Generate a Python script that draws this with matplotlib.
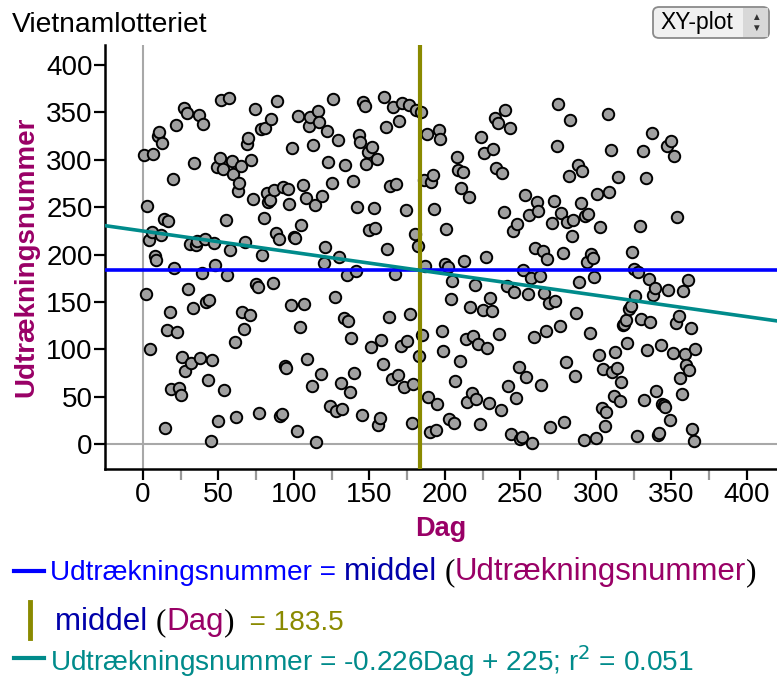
import numpy as np
import matplotlib
matplotlib.use("Agg")
import matplotlib.pyplot as plt
from matplotlib.patches import FancyBboxPatch, Rectangle

# 1969 lottery: draw number per day of year (Jan..Dec)
jan = [305,159,251,215,101,224,306,199,194,325,329,221,318,238,17,121,235,140,58,280,186,337,118,59,52,92,355,77,349,164,211]
feb = [86,144,297,210,214,347,91,181,338,216,150,68,152,4,89,212,189,292,25,302,363,290,57,236,179,365,205,299,285]
mar = [108,29,267,275,293,139,122,213,317,323,136,300,259,354,169,166,33,332,200,239,334,265,256,258,343,170,268,223,362,217,30]
apr = [32,271,83,81,269,253,147,312,219,218,14,346,124,231,273,148,260,90,336,345,62,316,252,2,351,340,74,262,191,208]
may = [330,298,40,276,364,155,35,321,197,65,37,133,295,178,130,55,112,278,75,183,250,326,319,31,361,357,296,308,226,103,313]
jun = [249,228,301,20,28,110,85,366,335,206,134,272,69,356,180,274,73,341,104,360,60,247,109,358,137,22,64,222,353,209]
jul = [93,350,115,279,188,327,50,13,277,284,248,15,42,331,322,120,98,190,227,187,27,153,172,23,67,303,289,88,270,287,193]
aug = [111,45,261,145,54,114,168,48,106,21,324,142,307,198,102,44,154,141,311,344,291,339,116,36,286,245,352,167,61,333,11]
sep = [225,161,49,232,82,6,8,184,263,71,158,242,175,1,113,207,255,246,177,63,204,160,119,195,149,18,233,257,151,315]
oct_ = [359,125,244,202,24,87,234,283,342,220,237,72,138,294,171,254,288,5,241,192,243,117,201,196,176,7,264,94,229,38,79]
nov = [19,34,348,266,310,76,51,97,80,282,46,66,126,127,131,107,143,146,203,185,156,9,182,230,132,309,47,281,99,174]
dec = [129,328,157,165,56,10,12,105,43,41,39,314,163,26,320,96,304,128,240,135,70,53,162,95,84,173,78,123,16,3,100]

draw_number = np.array(jan + feb + mar + apr + may + jun + jul + aug + sep + oct_ + nov + dec, dtype=float)
day = np.arange(1, len(draw_number) + 1, dtype=float)

mean_y = draw_number.mean()
mean_x = day.mean()
slope, intercept = np.polyfit(day, draw_number, 1)
r2 = np.corrcoef(day, draw_number)[0, 1] ** 2

W, H = 777, 679
fig = plt.figure(figsize=(W / 100, H / 100), dpi=100)
plt.rcParams['font.family'] = ['Liberation Sans', 'DejaVu Sans']

ax = fig.add_axes([105 / W, 1 - 469 / H, 1 - 105 / W, (469 - 45) / H])
ax.set_xlim(-25, 420)
ax.set_ylim(-26, 421)

for s in ['top', 'right']:
    ax.spines[s].set_visible(False)
for s in ['left', 'bottom']:
    ax.spines[s].set_linewidth(1.8)

ax.axvline(0, color='#a8a8a8', lw=1.5, zorder=1)
ax.axhline(0, color='#a8a8a8', lw=1.5, zorder=1)

ax.scatter(day, draw_number, s=68, facecolor='#a0a0a0', edgecolor='black', linewidths=1.4, zorder=3)

ax.axhline(mean_y, color='#0000ff', lw=2.6, zorder=4)
ax.axvline(mean_x, color='#8a8a00', lw=3, zorder=4)
xs = np.array([-25, 420])
ax.plot(xs, slope * xs + intercept, color='#008b8b', lw=2.6, zorder=4)
ax.set_xlim(-25, 420)

ax.set_xticks(np.arange(0, 401, 50))
ax.set_xticks(np.arange(25, 401, 50), minor=True)
ax.set_yticks(np.arange(0, 401, 50))
ax.tick_params(axis='both', which='major', labelsize=20, length=8, width=1.6, color='black', pad=1)
ax.tick_params(axis='x', which='minor', length=8, width=1.6, color='#999999')

ax.set_xlabel('Dag', fontsize=19.5, fontweight='bold', color='#990066', labelpad=6)
ax.set_ylabel('Udtrækningsnummer', fontsize=20, fontweight='bold', color='#990066', labelpad=5)

fig.text(12 / W, 1 - 25 / H, 'Vietnamlotteriet', fontsize=20.3, va='center', ha='left')

# XY-plot button
btn = FancyBboxPatch((653 / W, 1 - 38 / H), 116 / W, 31 / H, boxstyle='round,pad=0,rounding_size=0.008',
                     transform=fig.transFigure, facecolor='#f0f0f0', edgecolor='#8a8a8a', lw=1.3)
fig.patches.append(btn)
fig.patches.append(Rectangle((743 / W, 1 - 37 / H), 25 / W, 29 / H, transform=fig.transFigure,
                             facecolor='#d8d8d8', edgecolor='none'))
fig.text(697 / W, 1 - 22 / H, 'XY-plot', fontsize=16.5, ha='center', va='center')
fig.text(756 / W, 1 - 17 / H, '▲', fontsize=7, ha='center', va='center', color='#333333')
fig.text(756 / W, 1 - 28 / H, '▼', fontsize=7, ha='center', va='center', color='#333333')

renderer = fig.canvas.get_renderer()

def rich(x_px, y_px, parts):
    x = x_px
    for txt, kw in parts:
        t = fig.text(x / W, 1 - y_px / H, txt, va='baseline', ha='left', **kw)
        bb = t.get_window_extent(renderer)
        x += bb.width

blue = '#0000ff'
dblue = '#0000aa'
mag = '#990066'
olive = '#8a8a00'
teal = '#008b8b'
serif = dict(family=['Liberation Serif', 'DejaVu Serif'])

# legend row 1
fig.add_artist(plt.Line2D([14 / W, 44 / W], [1 - 571 / H] * 2, color=blue, lw=3))
rich(50, 580, [('Udtrækningsnummer = ', dict(fontsize=20.2, color=blue)),
               ('middel ', dict(fontsize=22.5, color=dblue)),
               ('(', dict(fontsize=22.5, color='black', **serif)),
               ('Udtrækningsnummer', dict(fontsize=22.5, color=mag)),
               (')', dict(fontsize=22.5, color='black', **serif))])
# row 2
fig.add_artist(plt.Line2D([30 / W, 30 / W], [1 - 638 / H, 1 - 602 / H], color=olive, lw=3.5))
rich(55, 630, [('middel ', dict(fontsize=22.5, color=dblue)),
               ('(', dict(fontsize=22.5, color='black', **serif)),
               ('Dag', dict(fontsize=22.5, color=mag)),
               (')', dict(fontsize=22.5, color='black', **serif)),
               ('  = %.1f' % mean_x, dict(fontsize=20.2, color=olive))])
# row 3
fig.add_artist(plt.Line2D([14 / W, 44 / W], [1 - 658 / H] * 2, color=teal, lw=3))
rich(50, 671, [('Udtrækningsnummer = %.3fDag + %.0f; r$^2$ = %.3f' % (slope, intercept, r2),
                dict(fontsize=20.2, color=teal))])

fig.savefig('out.png', dpi=100)
